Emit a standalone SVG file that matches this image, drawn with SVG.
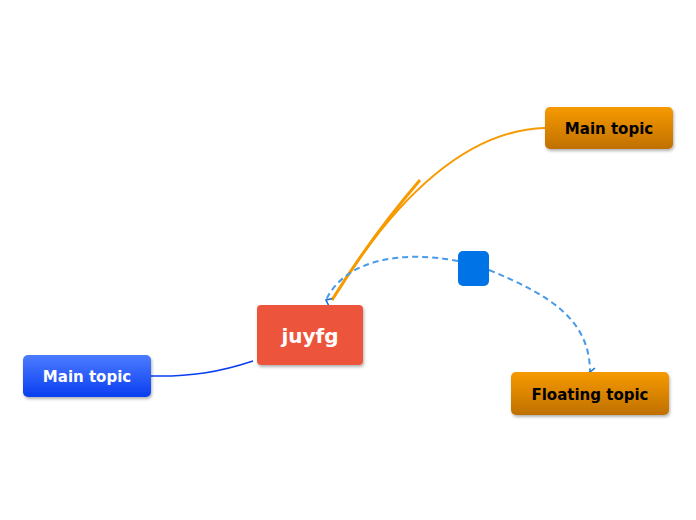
<svg xmlns="http://www.w3.org/2000/svg" width="696" height="520" viewBox="0 0 696 520">
<defs>
<linearGradient id="go" x1="0" y1="0" x2="0" y2="1"><stop offset="0" stop-color="#f79a00"/><stop offset="1" stop-color="#bf7000"/></linearGradient>
<linearGradient id="gb" x1="0" y1="0" x2="0" y2="1"><stop offset="0" stop-color="#4d7cff"/><stop offset="1" stop-color="#0a3ef0"/></linearGradient>
<filter id="sh" x="-20%" y="-20%" width="140%" height="150%"><feDropShadow dx="1" dy="2" stdDeviation="1.5" flood-color="#000" flood-opacity="0.3"/></filter>
<marker id="ar" viewBox="0 0 10 10" refX="5" refY="8" markerWidth="10" markerHeight="10" orient="auto-start-reverse" markerUnits="userSpaceOnUse"><path d="M1,3 L5,8 L9,3" fill="none" stroke="#1a6fd8" stroke-width="1.6"/></marker>
</defs>
<style>
text{font-family:"DejaVu Sans",sans-serif;font-weight:bold;text-anchor:middle}
.dash{fill:none;stroke:#4a9ae8;stroke-width:2;stroke-dasharray:6,4}
</style>
<g id="connectors">
<path d="M545,128 C470,130 400,190 332,300" fill="none" stroke="#f79a00" stroke-width="2"/>
<path d="M420,180 C390,215 360,255 332,300" fill="none" stroke="#f79a00" stroke-width="3"/>
<path d="M151,376 C190,377 220,372 253,361" fill="none" stroke="#0a3ef0" stroke-width="1.5"/>
<path class="dash" d="M458,261 C400,250 345,260 326,300" marker-end="url(#ar)"/>
<path class="dash" d="M489,270 C550,295 590,320 590,372" marker-end="url(#ar)"/>
</g>
<g id="center"><rect x="257" y="305" width="106" height="60" rx="4" fill="#ec553b" filter="url(#sh)"/><text x="310" y="343" font-size="20" fill="#fff">juyfg</text></g>
<g id="main-right"><rect x="545" y="107" width="128" height="42" rx="5" fill="url(#go)" filter="url(#sh)"/><text x="609" y="134" font-size="15" fill="#000">Main topic</text></g>
<g id="floating"><rect x="511" y="372" width="158" height="43" rx="5" fill="url(#go)" filter="url(#sh)"/><text x="590" y="400" font-size="15" fill="#000">Floating topic</text></g>
<g id="main-left"><rect x="23" y="355" width="128" height="42" rx="5" fill="url(#gb)" filter="url(#sh)"/><text x="87" y="382" font-size="15" fill="#fff">Main topic</text></g>
<g id="handle"><rect x="458" y="251" width="31" height="35" rx="5" fill="#0073e6"/></g>
</svg>
